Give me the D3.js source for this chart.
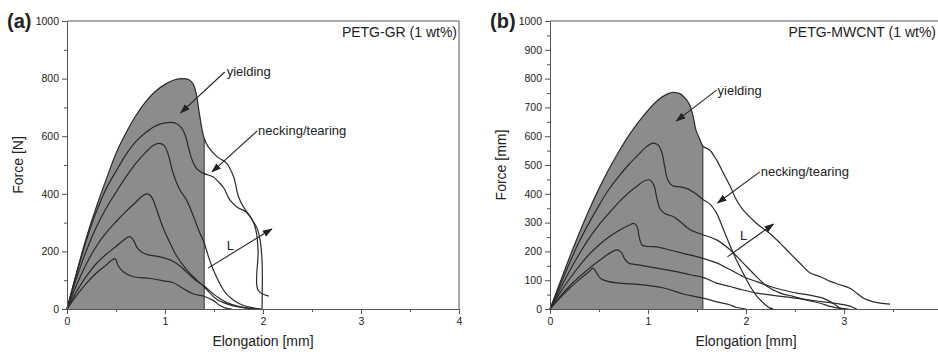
<!DOCTYPE html>
<html>
<head>
<meta charset="utf-8">
<script src="https://cdn.jsdelivr.net/npm/d3@7"></script>
<style>
  body { margin: 0; background: #fff; }
  svg text { font-family: "Liberation Sans", Arial, sans-serif; fill: #222; }
</style>
</head>
<body>
<div id="chart"></div>
<script>
// ---- data (elongation mm, force) ----
const xTickValues = [0, 1, 2, 3, 4];
const xMinorTicks = [0.5, 1.5, 2.5, 3.5];

const grYTicks = [0, 200, 400, 600, 800, 1000];
const grYMinor = [100, 300, 500, 700, 900];
const cntYTicks = [0, 100, 200, 300, 400, 500, 600, 700, 800, 900, 1000];
const cntYMinor = [50, 150, 250, 350, 450, 550, 650, 750, 850, 950];

// PETG-GR (1 wt%)
const grCurve1 = [[0,0],[0.1,130],[0.2,250],[0.3,355],[0.4,450],[0.5,540],[0.6,610],[0.7,670],[0.8,718],[0.9,755],[1.0,780],[1.1,796],[1.18,800],[1.24,797],[1.29,780],[1.32,745],[1.35,680],[1.38,620],[1.4,592],[1.44,564],[1.53,529],[1.63,506],[1.7,459],[1.75,390],[1.8,355],[1.87,320],[1.94,280],[1.97,240],[1.99,170],[1.99,0]];
const grCurve2 = [[0,0],[0.1,125],[0.2,240],[0.3,338],[0.4,418],[0.5,478],[0.6,535],[0.7,580],[0.8,612],[0.9,635],[1.0,646],[1.07,648],[1.12,643],[1.17,628],[1.21,600],[1.24,560],[1.28,515],[1.33,485],[1.4,470],[1.49,459],[1.55,440],[1.6,420],[1.66,380],[1.73,355],[1.83,336],[1.89,310],[1.93,270],[1.95,200],[1.95,65],[2.06,45]];
const grCurve3 = [[0,0],[0.1,110],[0.2,205],[0.3,285],[0.4,350],[0.5,405],[0.6,458],[0.7,505],[0.8,543],[0.88,568],[0.94,575],[0.99,568],[1.03,540],[1.08,475],[1.15,415],[1.22,378],[1.29,322],[1.35,268],[1.4,229],[1.45,175],[1.5,130],[1.56,88],[1.62,55],[1.7,30],[1.8,12],[1.9,4],[1.99,0]];
const grCurve4 = [[0,0],[0.1,85],[0.2,158],[0.3,218],[0.4,265],[0.5,303],[0.6,338],[0.7,370],[0.78,395],[0.83,399],[0.87,385],[0.92,340],[0.98,282],[1.05,230],[1.12,183],[1.22,137],[1.32,102],[1.39,80],[1.46,55],[1.53,33],[1.63,18],[1.75,7],[1.85,2],[1.93,0]];
const grCurve5 = [[0,0],[0.1,62],[0.2,115],[0.3,158],[0.4,190],[0.5,217],[0.58,240],[0.64,251],[0.68,238],[0.71,216],[0.76,198],[0.83,188],[0.95,181],[1.08,166],[1.15,150],[1.22,128],[1.32,98],[1.4,80],[1.46,62],[1.53,43],[1.63,22],[1.76,8],[1.88,2],[1.95,0]];
const grCurve6 = [[0,0],[0.1,48],[0.2,90],[0.3,125],[0.4,153],[0.46,170],[0.49,175],[0.52,152],[0.57,130],[0.67,113],[0.85,106],[1.0,97],[1.08,92],[1.19,70],[1.29,52],[1.39,45],[1.49,30],[1.56,12],[1.62,3],[1.68,0]];
const grShadeEdge = 1.4;

// PETG-MWCNT (1 wt%)
const cntCurve1 = [[0,0],[0.1,90],[0.2,180],[0.3,265],[0.4,345],[0.5,418],[0.6,485],[0.7,545],[0.8,600],[0.9,648],[1.0,690],[1.1,725],[1.2,747],[1.26,752],[1.33,747],[1.39,728],[1.43,705],[1.46,670],[1.49,620],[1.53,588],[1.56,565],[1.63,552],[1.7,517],[1.77,471],[1.84,425],[1.9,380],[1.97,344],[2.07,309],[2.14,288],[2.24,263],[2.35,228],[2.45,193],[2.55,159],[2.65,126],[2.76,112],[2.86,96],[2.96,84],[3.06,72],[3.13,55],[3.2,37],[3.3,25],[3.47,17]];
const cntCurve2 = [[0,0],[0.1,80],[0.2,160],[0.3,235],[0.4,300],[0.5,360],[0.6,415],[0.7,460],[0.8,500],[0.9,535],[0.98,562],[1.05,576],[1.1,570],[1.14,545],[1.17,495],[1.2,450],[1.25,428],[1.33,424],[1.4,418],[1.48,402],[1.56,380],[1.63,365],[1.7,332],[1.77,276],[1.84,218],[1.9,172],[1.97,125],[2.04,80],[2.11,45],[2.18,20],[2.24,4],[2.28,0]];
const cntCurve3 = [[0,0],[0.1,68],[0.2,132],[0.3,192],[0.4,246],[0.5,292],[0.6,332],[0.7,370],[0.8,403],[0.9,430],[0.97,446],[1.02,448],[1.06,430],[1.09,385],[1.12,350],[1.17,332],[1.26,320],[1.33,303],[1.43,275],[1.56,258],[1.7,240],[1.84,205],[1.97,160],[2.07,125],[2.21,80],[2.35,55],[2.49,43],[2.62,31],[2.76,20],[2.86,9],[2.96,2],[3.05,0]];
const cntCurve4 = [[0,0],[0.1,55],[0.2,105],[0.3,150],[0.4,190],[0.5,222],[0.6,250],[0.7,272],[0.8,290],[0.86,297],[0.89,285],[0.91,250],[0.94,222],[1.0,217],[1.09,216],[1.22,205],[1.36,193],[1.56,176],[1.7,160],[1.84,136],[1.97,113],[2.11,95],[2.24,79],[2.38,66],[2.52,55],[2.65,48],[2.79,37],[2.89,20],[2.96,3],[3.0,0]];
const cntCurve5 = [[0,0],[0.1,42],[0.2,80],[0.3,112],[0.44,152],[0.55,180],[0.64,200],[0.69,205],[0.73,195],[0.76,175],[0.8,160],[0.9,153],[1.09,142],[1.29,130],[1.43,119],[1.56,110],[1.7,90],[1.84,78],[1.97,66],[2.11,55],[2.24,49],[2.38,43],[2.52,37],[2.65,31],[2.79,25],[2.93,19],[3.06,10],[3.13,0]];
const cntCurve6 = [[0,0],[0.1,38],[0.2,72],[0.3,102],[0.4,130],[0.44,142],[0.47,128],[0.52,105],[0.6,95],[0.71,90],[0.95,84],[1.16,73],[1.36,52],[1.56,38],[1.7,25],[1.84,14],[1.9,6],[2.0,0]];
const cntShadeEdge = 1.56;

// annotations, in data units: label position, arrow start, arrow end
const grNotes = [
  { text: "yielding", at: [1.63, 809], from: [1.61, 823], to: [1.16, 681] },
  { text: "necking/tearing", at: [1.95, 604], from: [1.94, 618], to: [1.48, 476] },
  { text: "L", at: [1.63, 205], from: [1.44, 142], to: [2.09, 278] }
];
const cntNotes = [
  { text: "yielding", at: [1.71, 743], from: [1.70, 760], to: [1.29, 653] },
  { text: "necking/tearing", at: [2.15, 462], from: [2.14, 476], to: [1.71, 368] },
  { text: "L", at: [1.94, 240], from: [1.81, 181], to: [2.28, 295] }
];

const W = 938, H = 354;

const panels = [
  { tag: "(a)", title: "PETG-GR (1 wt%)", yTitle: "Force [N]", left: 67,
    curves: [grCurve1, grCurve2, grCurve3, grCurve4, grCurve5, grCurve6],
    edge: grShadeEdge, yTicks: grYTicks, yMinor: grYMinor, notes: grNotes },
  { tag: "(b)", title: "PETG-MWCNT (1 wt%)", yTitle: "Force [mm]", left: 550,
    curves: [cntCurve1, cntCurve2, cntCurve3, cntCurve4, cntCurve5, cntCurve6],
    edge: cntShadeEdge, yTicks: cntYTicks, yMinor: cntYMinor, notes: cntNotes }
];

const svg = d3.select("#chart").append("svg")
  .attr("width", W).attr("height", H)
  .attr("viewBox", [0, 0, W, H]);

svg.append("rect").attr("width", W).attr("height", H).attr("fill", "#fff");

const defs = svg.append("defs");
defs.append("marker")
  .attr("id", "head")
  .attr("markerUnits", "userSpaceOnUse")
  .attr("viewBox", "0 -4 10 8")
  .attr("refX", 9).attr("refY", 0)
  .attr("markerWidth", 10).attr("markerHeight", 8)
  .attr("orient", "auto")
  .append("path").attr("d", "M0,-3.5L10,0L0,3.5Z").attr("fill", "#222");

panels.forEach((p, i) => {
  const x = d3.scaleLinear().domain([0, 4]).range([p.left, p.left + 392]);
  const y = d3.scaleLinear().domain([0, 1000]).range([309, 21]);
  const g = svg.append("g");

  const line = d3.line()
    .x(d => x(d[0])).y(d => y(d[1]))
    .curve(d3.curveCatmullRom.alpha(0.5));

  // shaded region under the envelope curve, up to the edge
  const clipId = "clip" + i;
  defs.append("clipPath").attr("id", clipId)
    .append("rect")
    .attr("x", x(0)).attr("y", y(1000))
    .attr("width", x(p.edge) - x(0)).attr("height", y(0) - y(1000));

  const area = d3.area()
    .x(d => x(d[0])).y0(y(0)).y1(d => y(d[1]))
    .curve(d3.curveCatmullRom.alpha(0.5));

  g.append("path")
    .datum(p.curves[0])
    .attr("clip-path", `url(#${clipId})`)
    .attr("d", area)
    .attr("fill", "#8c8c8c");

  const edgeVal = p.curves[0].find(d => d[0] === p.edge)[1];
  g.append("line")
    .attr("x1", x(p.edge)).attr("x2", x(p.edge))
    .attr("y1", y(0)).attr("y2", y(edgeVal))
    .attr("stroke", "#333").attr("stroke-width", 1);

  // curves
  g.selectAll(".curve")
    .data(p.curves)
    .join("path")
    .attr("class", "curve")
    .attr("d", line)
    .attr("fill", "none")
    .attr("stroke", "#2a2a2a")
    .attr("stroke-width", 1.2);

  // frame (top + right)
  g.append("path")
    .attr("d", `M${x(0)},${y(1000)}H${x(4)}V${y(0)}`)
    .attr("fill", "none").attr("stroke", "#555").attr("stroke-width", 1);

  // axes (labels only for ticks that fall inside the picture)
  const shownX = xTickValues.filter(v => x(v) < W - 6);
  g.append("g").attr("transform", `translate(0,${y(0)})`)
    .call(d3.axisBottom(x).tickValues(shownX).tickFormat(d3.format("d"))
      .tickSize(5).tickSizeOuter(0).tickPadding(4));
  g.append("g").attr("transform", `translate(0,${y(0)})`)
    .call(d3.axisBottom(x).tickValues(xMinorTicks).tickFormat("").tickSize(3).tickSizeOuter(0))
    .call(s => s.select(".domain").remove());

  g.append("g").attr("transform", `translate(${x(0)},0)`)
    .call(d3.axisLeft(y).tickValues(p.yTicks).tickFormat(d3.format("d"))
      .tickSize(5).tickSizeOuter(0).tickPadding(3));
  g.append("g").attr("transform", `translate(${x(0)},0)`)
    .call(d3.axisLeft(y).tickValues(p.yMinor).tickFormat("").tickSize(3).tickSizeOuter(0))
    .call(s => s.select(".domain").remove());

  g.selectAll(".domain").attr("stroke", "#555");
  g.selectAll(".tick line").attr("stroke", "#555");
  g.selectAll(".tick text")
    .attr("font-size", 10.5)
    .attr("font-family", "'Liberation Sans', Arial, sans-serif")
    .attr("fill", "#333");

  // axis titles
  g.append("text")
    .attr("x", (x(0) + x(4)) / 2).attr("y", 346)
    .attr("text-anchor", "middle").attr("font-size", 14)
    .text("Elongation [mm]");

  g.append("text")
    .attr("transform", `translate(${x(0) - 49},${(y(0) + y(1000)) / 2}) rotate(-90)`)
    .attr("text-anchor", "middle").attr("dy", "0.35em").attr("font-size", 14)
    .text(p.yTitle);

  // panel tag and title
  g.append("text")
    .attr("x", x(0) - 60).attr("y", 28)
    .attr("font-size", 20).attr("font-weight", "bold").attr("fill", "#111")
    .text(p.tag);

  g.append("text")
    .attr("x", Math.min(x(4) - 2, W - 2)).attr("y", 37)
    .attr("text-anchor", "end").attr("font-size", 14)
    .text(p.title);

  // annotations
  p.notes.forEach(n => {
    g.append("line")
      .attr("x1", x(n.from[0])).attr("y1", y(n.from[1]))
      .attr("x2", x(n.to[0])).attr("y2", y(n.to[1]))
      .attr("stroke", "#222").attr("stroke-width", 1.1)
      .attr("marker-end", "url(#head)");
    g.append("text")
      .attr("x", x(n.at[0])).attr("y", y(n.at[1]))
      .attr("font-size", 13)
      .text(n.text);
  });
});
</script>
</body>
</html>
